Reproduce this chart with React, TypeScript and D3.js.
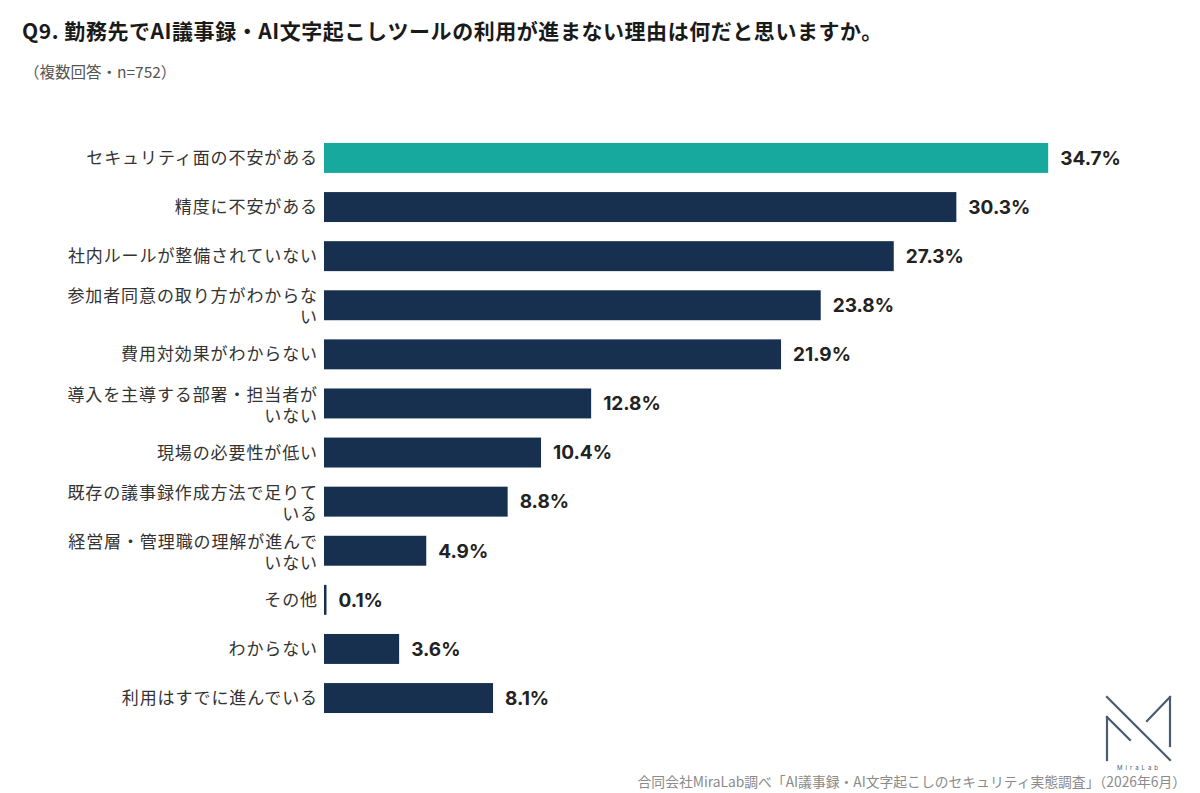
import React from "react";
import * as d3 from "d3";

const title = "Q9. 勤務先でAI議事録・AI文字起こしツールの利用が進まない理由は何だと思いますか。";
const subtitle = "（複数回答・n=752）";
const source = "合同会社MiraLab調べ「AI議事録・AI文字起こしのセキュリティ実態調査」（2026年6月）";

const categories = [
  "セキュリティ面の不安がある",
  "精度に不安がある",
  "社内ルールが整備されていない",
  "参加者同意の取り方がわからない",
  "費用対効果がわからない",
  "導入を主導する部署・担当者がいない",
  "現場の必要性が低い",
  "既存の議事録作成方法で足りている",
  "経営層・管理職の理解が進んでいない",
  "その他",
  "わからない",
  "利用はすでに進んでいる",
];
const values = [34.7, 30.3, 27.3, 23.8, 21.9, 12.8, 10.4, 8.8, 4.9, 0.1, 3.6, 8.1];
const highlightIndex = 0;

const W = 1200;
const H = 793;
const JP = "'Noto Sans CJK JP', 'Noto Sans', sans-serif";
const NUM = "Inter, 'Noto Sans', sans-serif";

function wrap(label: string, max: number): string[] {
  const lines: string[] = [];
  for (let i = 0; i < label.length; i += max) lines.push(label.slice(i, i + max));
  return lines;
}

export default function App() {
  const x = d3.scaleLinear().domain([0, 40]).range([324, 324 + 40 * 20.87]);
  const y = d3
    .scaleBand<string>()
    .domain(categories)
    .range([133.4, 133.4 + 12 * 49.1])
    .paddingInner(0.39)
    .paddingOuter(0.195);

  const logo = "#4a5b72";

  return (
    <svg width={W} height={H} viewBox={`0 0 ${W} ${H}`} style={{ position: "absolute", left: 0, top: 0, background: "#fff" }}>
      <rect width={W} height={H} fill="#fff" />
      <text x={22} y={39} fontFamily={JP} fontWeight={700} fontSize={21} letterSpacing={0.55} fill="#1a1a1a">
        {title}
      </text>
      <text x={24} y={78} fontFamily={JP} fontSize={15.5} fill="#555">
        {subtitle}
      </text>

      {categories.map((c, i) => {
        const by = y(c)!;
        const bh = y.bandwidth();
        const cy = by + bh / 2;
        const lines = wrap(c, 14);
        return (
          <g key={c}>
            <rect
              x={x(0)}
              y={by}
              width={Math.max(x(values[i]) - x(0), 2.5)}
              height={bh}
              fill={i === highlightIndex ? "#17a89e" : "#17304f"}
            />
            {lines.length === 1 ? (
              <text x={318} y={cy} dy="0.36em" textAnchor="end" fontFamily={JP} fontSize={17} letterSpacing={0.9} fill="#333">
                {lines[0]}
              </text>
            ) : (
              lines.map((l, k) => (
                <text
                  key={k}
                  x={318}
                  y={cy - 9 + k * 21}
                  dy="0.36em"
                  textAnchor="end"
                  fontFamily={JP}
                  fontSize={17}
                  letterSpacing={0.9}
                  fill="#333"
                >
                  {l}
                </text>
              ))
            )}
            <text
              x={Math.max(x(values[i]), x(0) + 2.5) + 12}
              y={cy}
              dy="0.36em"
              fontFamily={NUM}
              fontWeight={700}
              fontSize={19}
              fill="#222"
            >
              {values[i].toFixed(1)}%
            </text>
          </g>
        );
      })}

      <g stroke={logo} strokeWidth={2.2} fill="none" strokeLinecap="square">
        <line x1={1107} y1={697} x2={1170} y2={760} />
        <line x1={1107} y1={717} x2={1107} y2={760} />
        <line x1={1107} y1={717} x2={1130} y2={740} />
        <line x1={1170} y1={697} x2={1170} y2={746} />
        <line x1={1170} y1={697} x2={1147} y2={721} />
      </g>
      <text x={1139} y={770} textAnchor="middle" fontFamily={NUM} fontSize={6} letterSpacing={3} fill={logo}>
        MiraLab
      </text>

      <text x={1186} y={787} textAnchor="end" fontFamily={JP} fontSize={13.8} fill="#8a8a8a">
        {source}
      </text>
    </svg>
  );
}
